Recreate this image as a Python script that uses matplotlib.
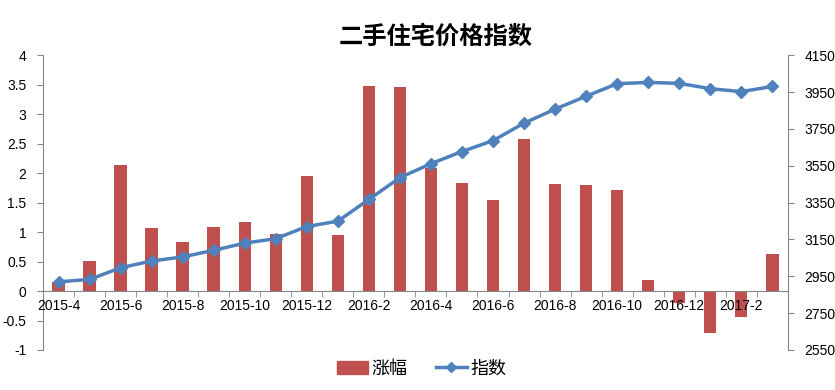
import numpy as np
import matplotlib.pyplot as plt
from matplotlib.lines import Line2D
from matplotlib.patches import Patch

plt.rcParams['font.family'] = ['Liberation Sans', 'Noto Sans CJK SC', 'DejaVu Sans']

months = ["2015-4", "2015-5", "2015-6", "2015-7", "2015-8", "2015-9", "2015-10", "2015-11",
          "2015-12", "2016-1", "2016-2", "2016-3", "2016-4", "2016-5", "2016-6", "2016-7",
          "2016-8", "2016-9", "2016-10", "2016-11", "2016-12", "2017-1", "2017-2", "2017-3"]
change = [0.16, 0.51, 2.14, 1.07, 0.83, 1.08, 1.17, 0.97, 1.95, 0.95, 3.47, 3.46,
          2.08, 1.83, 1.54, 2.58, 1.81, 1.80, 1.71, 0.19, -0.21, -0.72, -0.44, 0.63]
index = [2920, 2933, 2996, 3033, 3055, 3091, 3130, 3154, 3220, 3249, 3367, 3485,
         3561, 3627, 3686, 3781, 3857, 3927, 3995, 4002, 3997, 3968, 3952, 3980]

bar_color = "#C0504D"
line_color = "#4F81BD"
axis_color = "#868686"

fig = plt.figure(figsize=(8.35, 3.9), dpi=100)
ax = fig.add_axes([0.0515, 0.1026, 0.892, 0.756])
x = np.arange(len(months))

ax.bar(x, change, width=0.4, color=bar_color, zorder=2)
ax.set_axisbelow(False)
ax.set_xlim(-0.5, len(months) - 0.5)
ax.set_ylim(-1, 4)
ax.set_yticks(np.arange(-1, 4.01, 0.5))
ax.set_yticklabels([f"{v:g}" for v in np.arange(-1, 4.01, 0.5)], fontsize=10)

ax.spines['top'].set_visible(False)
ax.spines['right'].set_visible(False)
ax.spines['bottom'].set_position(('data', 0))
for s in ['left', 'bottom']:
    ax.spines[s].set_color(axis_color)
ax.tick_params(axis='y', direction='out', length=4, color=axis_color, pad=8)

ax.set_xticks(x[::2])
ax.set_xticklabels(months[::2], fontsize=10)
ax.tick_params(axis='x', length=0, pad=6)
ax.set_xticks(np.arange(-0.5, len(months), 1), minor=True)
ax.tick_params(axis='x', which='minor', direction='out', length=4, color=axis_color)

ax2 = ax.twinx()
ax2.plot(x, index, color=line_color, linewidth=2.5, marker='D', markersize=6.5, zorder=3)
ax2.set_ylim(2550, 4150)
ax2.set_yticks(np.arange(2550, 4151, 200))
ax2.tick_params(axis='y', direction='out', length=4, color=axis_color, labelsize=10, pad=8)
ax2.spines['top'].set_visible(False)
ax2.spines['left'].set_visible(False)
ax2.spines['bottom'].set_visible(False)
ax2.spines['right'].set_color(axis_color)

fig.text(0.522, 0.905, "二手住宅价格指数", ha='center', va='center', fontsize=17.5,
         fontweight='bold', family=['Noto Sans CJK SC'])

handles = [Patch(color=bar_color),
           Line2D([], [], color=line_color, linewidth=2.5, marker='D', markersize=5)]
fig.legend(handles, ["涨幅", "指数"], loc='center', bbox_to_anchor=(0.505, 0.055), ncol=2,
           frameon=False, prop={'family': ['Noto Sans CJK SC'], 'size': 13},
           handlelength=1.7, columnspacing=1.6, handletextpad=0.2)

fig.savefig("out.png", dpi=100)
